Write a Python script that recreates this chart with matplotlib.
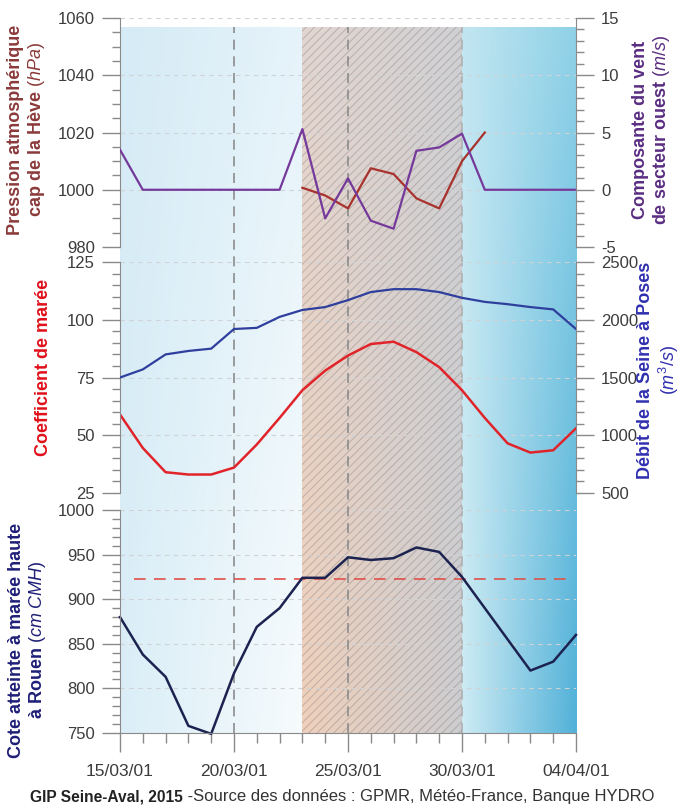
import numpy as np
import matplotlib
matplotlib.use("Agg")
from matplotlib import pyplot as plt
from matplotlib.colors import to_rgb
from matplotlib.patches import Rectangle
from matplotlib.ticker import MultipleLocator

plt.rcParams['font.family'] = ['Liberation Sans', 'DejaVu Sans']
plt.rcParams['mathtext.fontset'] = 'custom'
plt.rcParams['mathtext.rm'] = 'Liberation Sans'
plt.rcParams['mathtext.it'] = 'Liberation Sans:italic'
plt.rcParams['axes.unicode_minus'] = False
plt.rcParams['hatch.linewidth'] = 0.7

# jours depuis le 15/03
jours = [0, 1, 2, 3, 4, 5, 6, 7, 8, 9, 10, 11, 12, 13, 14, 15, 16, 17, 18, 19, 20]
date_ticks = [0, 5, 10, 15, 20]
date_labels = ["15/03/01", "20/03/01", "25/03/01", "30/03/01", "04/04/01"]

vent = [3.5, 0, 0, 0, 0, 0, 0, 0, 5.3, -2.5, 1.0, -2.7, -3.4, 3.4, 3.7, 4.9, 0, 0, 0, 0, 0]
jours_pression = [8, 9, 10, 11, 12, 13, 14, 15, 16]
pression = [1000.7, 998, 993.5, 1007.5, 1005.5, 997, 993.5, 1010, 1020]
coef = [59, 44.5, 34, 33, 33, 36, 46, 57.5, 69.5, 78, 84.5, 89.5, 90.5, 86, 79.5,
        69.5, 57.5, 46.5, 42.5, 43.5, 53]
debit = [1500, 1570, 1700, 1730, 1750, 1920, 1930, 2025, 2085, 2110, 2170, 2240, 2265,
         2265, 2240, 2190, 2155, 2135, 2110, 2090, 1920]
cote = [880, 838, 813, 758, 749, 817, 869, 890, 924, 924, 947, 944, 946, 958, 953,
        925, 890, 855, 820, 830, 860]
seuil_cote = 923

# periodes de fond
periode_surcote = (8, 15)

fig = plt.figure(figsize=(6.88, 8.07), dpi=100)
L, W = 0.1744, 0.6628

# fond en degrade + hachures
bg = fig.add_axes([L, 0.0917, W, 0.967 - 0.0917])
bg.axis('off')

def gradient(x0, x1, tl, tr, bl, br):
    # degrade bilineaire a partir des 4 coins
    tl, tr, bl, br = [np.array(to_rgb(c)) for c in (tl, tr, bl, br)]
    h = np.linspace(0, 1, 64)[None, :, None]
    v = np.linspace(0, 1, 64)[:, None, None]
    img = (1 - v) * ((1 - h) * tl + h * tr) + v * ((1 - h) * bl + h * br)
    bg.imshow(img, extent=[x0, x1, 0, 1], aspect='auto', interpolation='bilinear')

gradient(0, periode_surcote[0], '#d5ebf5', '#e6f3fa', '#dbeef7', '#f6fbfd')
gradient(periode_surcote[0], periode_surcote[1], '#e2d6d1', '#d0d0d3', '#efd0bb', '#cdcdd0')
gradient(periode_surcote[1], 20, '#c2e6f1', '#8fd1e7', '#cdebf4', '#52b1d8')
bg.add_patch(Rectangle((periode_surcote[0], 0), periode_surcote[1] - periode_surcote[0], 1,
                       facecolor='none', edgecolor=(0.45, 0.42, 0.42, 0.35), hatch='////', lw=0))
for d, c in [(5, '#8c8c8c'), (10, '#8c8c8c'), (15, '#b0b0b0')]:
    bg.axvline(d, color=c, lw=1.2, ls=(0, (6, 4)))
bg.set_xlim(0, 20)
bg.set_ylim(0, 1)

ax1 = fig.add_axes([L, 0.6939, W, 0.2838])
ax2 = fig.add_axes([L, 0.3891, W, 0.2862])
ax3 = fig.add_axes([L, 0.0917, W, 0.2763])
ax1r = ax1.twinx()
ax2r = ax2.twinx()

spine_c = '#8a8a8a'
lab_c = '#3c3c3c'

for ax in [ax1, ax2, ax3, ax1r, ax2r]:
    ax.set_facecolor('none')
    ax.set_xlim(0, 20)
    for s in ax.spines.values():
        s.set_visible(False)
        s.set_color(spine_c)
    ax.tick_params(axis='y', which='major', length=13, width=1, color=spine_c,
                   labelsize=12, labelcolor=lab_c, pad=5)
    ax.tick_params(axis='y', which='minor', length=6, width=1, color=spine_c)

for ax in [ax1, ax2, ax3]:
    ax.spines['left'].set_visible(True)
    ax.grid(axis='y', ls=(0, (4, 4)), color='#cfd3d6', lw=0.8)
    ax.set_axisbelow(True)
for ax in [ax1r, ax2r]:
    ax.spines['right'].set_visible(True)
for ax in [ax1, ax2, ax1r, ax2r]:
    ax.tick_params(axis='x', which='both', bottom=False, labelbottom=False)

# panneau haut
ax1.plot(jours_pression, pression, color='#a8322d', lw=1.6)
ax1r.plot(jours, vent, color='#74399a', lw=1.6)
ax1.set_ylim(980, 1060)
ax1.yaxis.set_major_locator(MultipleLocator(20))
ax1.yaxis.set_minor_locator(MultipleLocator(5))
ax1r.set_ylim(-5, 15)
ax1r.yaxis.set_major_locator(MultipleLocator(5))
ax1r.yaxis.set_minor_locator(MultipleLocator(1))

# panneau milieu
ax2.plot(jours, coef, color='#e0242a', lw=1.8)
ax2r.plot(jours, debit, color='#2e3f9e', lw=1.6)
ax2.set_ylim(25, 125)
ax2.yaxis.set_major_locator(MultipleLocator(25))
ax2.yaxis.set_minor_locator(MultipleLocator(5))
ax2r.set_ylim(500, 2500)
ax2r.yaxis.set_major_locator(MultipleLocator(500))
ax2r.yaxis.set_minor_locator(MultipleLocator(100))

# panneau bas
ax3.hlines(seuil_cote, 0.6, 19.7, colors='#e0504a', lw=1.2, linestyles=(0, (7, 5)))
ax3.plot(jours, cote, color='#1c2350', lw=1.8, clip_on=False)
ax3.set_ylim(750, 1000)
ax3.yaxis.set_major_locator(MultipleLocator(50))
ax3.yaxis.set_minor_locator(MultipleLocator(10))
ax3.spines['bottom'].set_visible(True)
ax3.set_xticks(date_ticks)
ax3.set_xticklabels(date_labels)
ax3.xaxis.set_minor_locator(MultipleLocator(1))
ax3.tick_params(axis='x', which='major', length=14, width=1, color=spine_c,
                labelsize=12.5, labelcolor=lab_c, pad=8)
ax3.tick_params(axis='x', which='minor', length=7, width=1, color=spine_c)

# libelles des axes
kw = dict(rotation=90, ha='center', va='center', fontsize=13, fontweight='bold',
          multialignment='center', linespacing=1.15)
fig.text(27 / 688, 1 - 130 / 807, "Pression atmosphérique\ncap de la Hève $\\mathit{(hPa)}$",
         color='#8b3a3a', **kw)
fig.text(44 / 688, 1 - 367 / 807, "Coefficient de marée", color='#e0101a', **kw)
fig.text(28 / 688, 1 - 640 / 807, "Cote atteinte à marée haute\nà Rouen $\\mathit{(cm\\ CMH)}$",
         color='#1f1f78', **kw)
fig.text(652 / 688, 1 - 130 / 807, "Composante du vent\nde secteur ouest $\\mathit{(m/s)}$",
         color='#5a2d82', **kw)
fig.text(659 / 688, 1 - 370 / 807, "Débit de la Seine à Poses\n$\\mathit{(m^3/s)}$",
         color='#3030b0', **kw)

# source
t1 = fig.text(30 / 688, 1 - 797 / 807, "GIP Seine-Aval, 2015", fontsize=11.2,
              fontweight='bold', color='#222222', va='center')
fig.canvas.draw()
bb = t1.get_window_extent()
fig.text(bb.x1 / fig.bbox.width, 1 - 797 / 807,
         " -Source des données : GPMR, Météo-France, Banque HYDRO",
         fontsize=12, color='#333333', va='center')

fig.savefig("out.png", dpi=100)
